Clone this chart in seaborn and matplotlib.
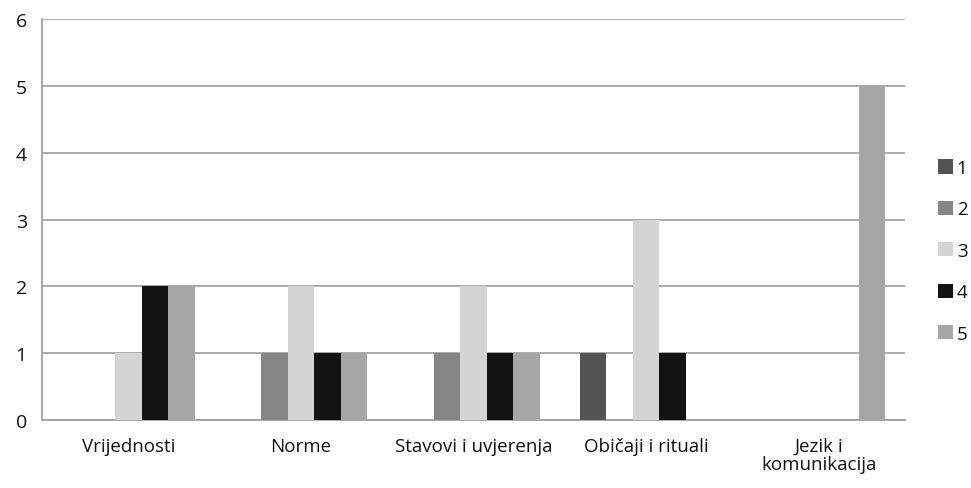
import pandas as pd
import numpy as np
import seaborn as sns
import matplotlib.pyplot as plt
from matplotlib.ticker import FixedLocator

# Data
categories = ['Vrijednosti', 'Norme', 'Stavovi i uvjerenja', 'Običaji i rituali', 'Jezik i\nkomunikacija']
series_names = ['1', '2', '3', '4', '5']
s1 = [0, 0, 0, 1, 0]
s2 = [0, 1, 1, 0, 0]
s3 = [1, 2, 2, 3, 0]
s4 = [2, 1, 1, 1, 0]
s5 = [2, 1, 1, 0, 5]
colors = ['#545454', '#858585', '#d3d4d3', '#121314', '#a5a7a7']

rows = []
for name, vals in zip(series_names, [s1, s2, s3, s4, s5]):
    for cat, v in zip(categories, vals):
        rows.append({'category': cat, 'series': name, 'value': v})
df = pd.DataFrame(rows)

sns.set_style('white')
plt.rcParams['font.family'] = ['Open Sans', 'DejaVu Sans']

fig = plt.figure(figsize=(9.71, 4.89), dpi=100)
ax = fig.add_axes([0.0433, 0.139, 0.8887, 0.82])

sns.barplot(data=df, x='category', y='value', hue='series', palette=colors,
            width=0.77, saturation=1, linewidth=0, ax=ax, zorder=3)

ax.set_xlim(-0.5, 4.5)
ax.set_ylim(0, 6)
ax.set_yticks(range(0, 7))
ax.yaxis.grid(True, color='#a3a3a3', linewidth=1.3, zorder=0)
ax.set_axisbelow(True)
ax.set_xlabel('')
ax.set_ylabel('')

for side in ['top', 'right']:
    ax.spines[side].set_visible(False)
for side in ['left', 'bottom']:
    ax.spines[side].set_color('#a3a3a3')
    ax.spines[side].set_linewidth(1.3)

ax.tick_params(axis='y', length=6, width=1.3, color='#a3a3a3', labelsize=14,
               labelcolor='#111111', pad=5)
ax.tick_params(axis='x', which='major', length=0, labelsize=13.5,
               labelcolor='#111111', pad=12)
ax.xaxis.set_minor_locator(FixedLocator(np.arange(-0.5, 5.0, 1.0)))
ax.tick_params(axis='x', which='minor', length=6, width=1.3, color='#a3a3a3')
for lbl in ax.get_xticklabels():
    lbl.set_linespacing(1.05)

leg = ax.legend(loc='center left', bbox_to_anchor=(0.966, 0.485),
                bbox_transform=fig.transFigure, frameon=False, borderaxespad=0,
                borderpad=0, fontsize=13.5, handlelength=0.8, handleheight=0.8,
                labelspacing=1.25, handletextpad=0.2)
for t in leg.get_texts():
    t.set_color('#111111')

fig.savefig('out.png', dpi=100)
